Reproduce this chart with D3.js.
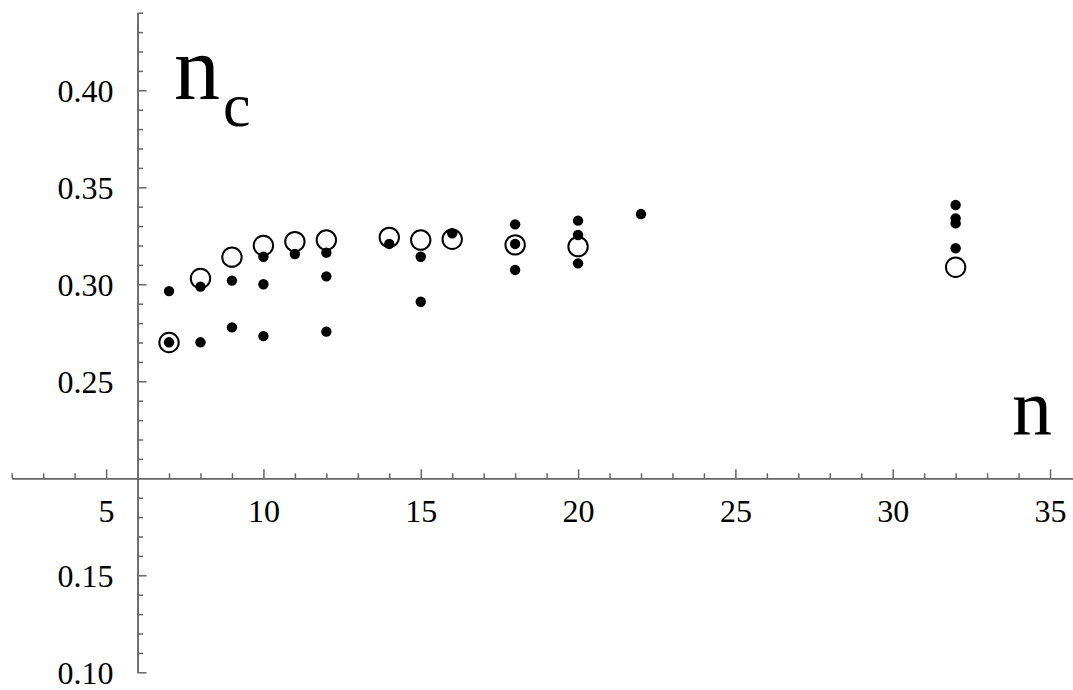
<!DOCTYPE html>
<html>
<head>
<meta charset="utf-8">
<script src="https://cdn.jsdelivr.net/npm/d3@7"></script>
<style>
  body { margin: 0; background: #fff; }
  svg { display: block; }
  svg text { font-family: 'Liberation Serif', Tinos, 'Times New Roman', serif; fill: #000; }
</style>
</head>
<body>
<svg width="1073" height="690"></svg>
<script>
// open circles (one per n)
const openN = [7, 8, 9, 10, 11, 12, 14, 15, 16, 18, 20, 32];
const openNc = [0.270, 0.303, 0.314, 0.320, 0.322, 0.3228, 0.3242, 0.3228, 0.3232, 0.3203, 0.3194, 0.3088];

// filled dots
const dotN = [7, 7, 8, 8, 9, 9, 10, 10, 10, 11, 12, 12, 12, 14, 15, 15, 16, 18, 18, 18, 20, 20, 20, 22, 32, 32, 32, 32];
const dotNc = [0.2965, 0.2701, 0.2988, 0.2701, 0.3019, 0.2778, 0.3142, 0.3000, 0.2733, 0.3156,
  0.3163, 0.3041, 0.2756, 0.3208, 0.3142, 0.2910, 0.3263, 0.3309, 0.3208, 0.3074,
  0.3328, 0.3254, 0.3108, 0.3362, 0.3409, 0.3340, 0.3314, 0.3186];

const xMajor = [5, 10, 15, 20, 25, 30, 35];
const yMajor = [0.10, 0.15, 0.25, 0.30, 0.35, 0.40];

const svg = d3.select('svg');

const x = d3.scaleLinear().domain([2, 35.73]).range([11.7, 1073]);
const y = d3.scaleLinear().domain([0.10, 0.44]).range([672.3, 12.7]);

const axisColor = '#666';
const originX = x(6), originY = y(0.2);

// x axis: minor ticks every 1, major every 5
const gx = svg.append('g').attr('transform', `translate(0,${originY})`);
gx.append('g')
  .call(d3.axisBottom(x).tickValues(d3.range(2, 36).filter(d => d % 5 != 0 && d != 6))
    .tickSizeInner(-5).tickSizeOuter(0).tickFormat(''));
gx.append('g')
  .call(d3.axisBottom(x).tickValues(xMajor).tickSizeInner(-9).tickSizeOuter(0)
    .tickPadding(21).tickFormat(d3.format('d')));

// y axis
const gy = svg.append('g').attr('transform', `translate(${originX},0)`);
gy.append('g')
  .call(d3.axisLeft(y).tickValues(d3.range(10, 45).map(d => d / 100).filter(d => Math.round(d * 100) % 5 != 0))
    .tickSizeInner(-5.5).tickSizeOuter(0).tickFormat(''));
gy.append('g')
  .call(d3.axisLeft(y).tickValues(yMajor).tickSizeInner(-9).tickSizeOuter(0)
    .tickPadding(24).tickFormat(d3.format('.2f')));

// d3 axis sets font-family on its group, clear it
svg.selectAll('g').attr('font-family', null).attr('font-size', null);
gx.selectAll('text').attr('dy', '0.71em').style('font-size', '32px');
gy.selectAll('text').attr('dy', '0.36em').style('font-size', '32px');

svg.selectAll('.domain, .tick line').attr('stroke', axisColor).attr('stroke-width', 1.5);

// axis labels
svg.append('text').attr('x', 174).attr('y', 99).style('font-size', '92px').text('n');
svg.append('text').attr('x', 223).attr('y', 126).style('font-size', '62px').text('c');
svg.append('text').attr('x', 1012).attr('y', 434).style('font-size', '80px').text('n');

// data
svg.append('g').selectAll('circle')
  .data(dotN.map((n, i) => [n, dotNc[i]]))
  .join('circle')
  .attr('cx', d => x(d[0])).attr('cy', d => y(d[1]))
  .attr('r', 5.2).attr('fill', '#000');

svg.append('g').selectAll('circle')
  .data(openN.map((n, i) => [n, openNc[i]]))
  .join('circle')
  .attr('cx', d => x(d[0])).attr('cy', d => y(d[1]))
  .attr('r', 9.7).attr('fill', 'none').attr('stroke', '#000').attr('stroke-width', 2);
</script>
</body>
</html>
